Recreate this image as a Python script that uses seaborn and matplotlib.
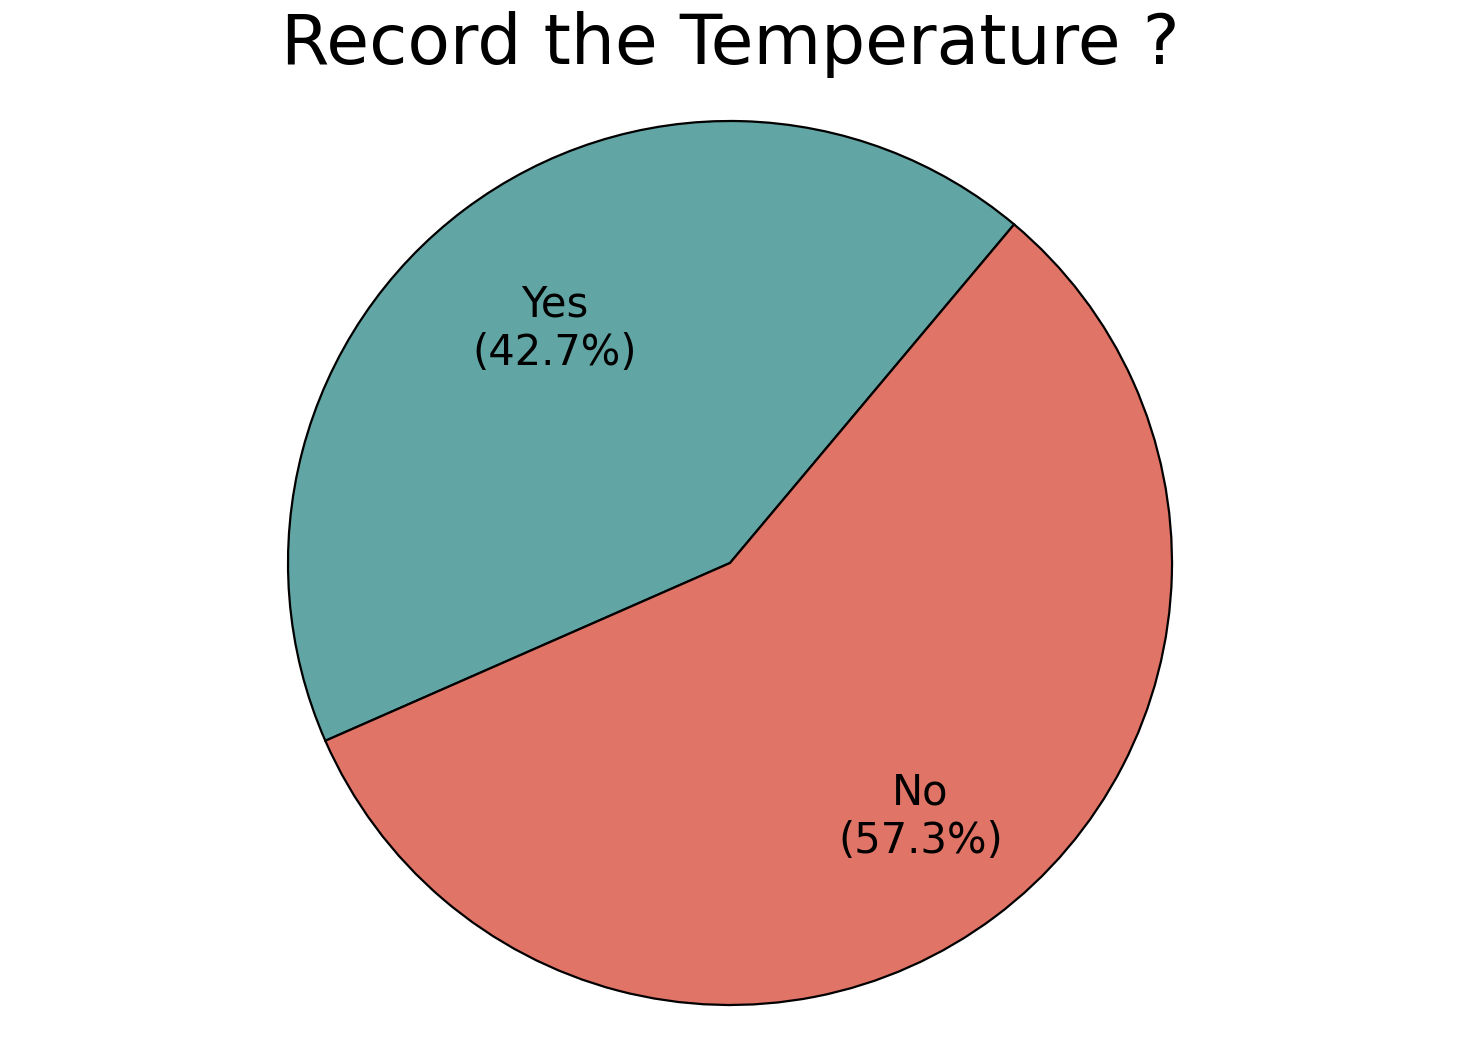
import numpy as np
import matplotlib.pyplot as plt
import seaborn as sns

sns.set_style("white")
plt.rcParams['font.family'] = ['DejaVu Sans']
plt.rcParams['text.color'] = 'black'

labels = ["Yes", "No"]
shares = [42.7, 57.3]
colors = ["#61A5A4", "#E07466"]
label_dist = [0.662, 0.718]

fig = plt.figure(figsize=(14.6, 10.6), dpi=100)
ax = fig.add_axes([0, 55 / 1060, 1, 884 / 1060])

wedges, texts, autotexts = ax.pie(
    shares, colors=colors, startangle=50, autopct="%1.1f%%",
    wedgeprops={"edgecolor": "black", "linewidth": 1.6},
    textprops={"fontsize": 30, "color": "black"},
)
for w, t, lab, d in zip(wedges, autotexts, labels, label_dist):
    t.set_text(f"{lab}\n({t.get_text()})")
    mid = np.deg2rad((w.theta1 + w.theta2) / 2)
    t.set_position((d * np.cos(mid), d * np.sin(mid)))
    t.set_ha("center")
    t.set_va("center")

ax.set_aspect("equal", adjustable="datalim")
ax.set_ylim(-1, 1)
ax.set_xlim(-1, 1)

fig.text(0.5, 1 - 64 / 1060, "Record the Temperature ?", ha="center",
         va="baseline", fontsize=50, color="black")

fig.savefig("out.png", dpi=100)
